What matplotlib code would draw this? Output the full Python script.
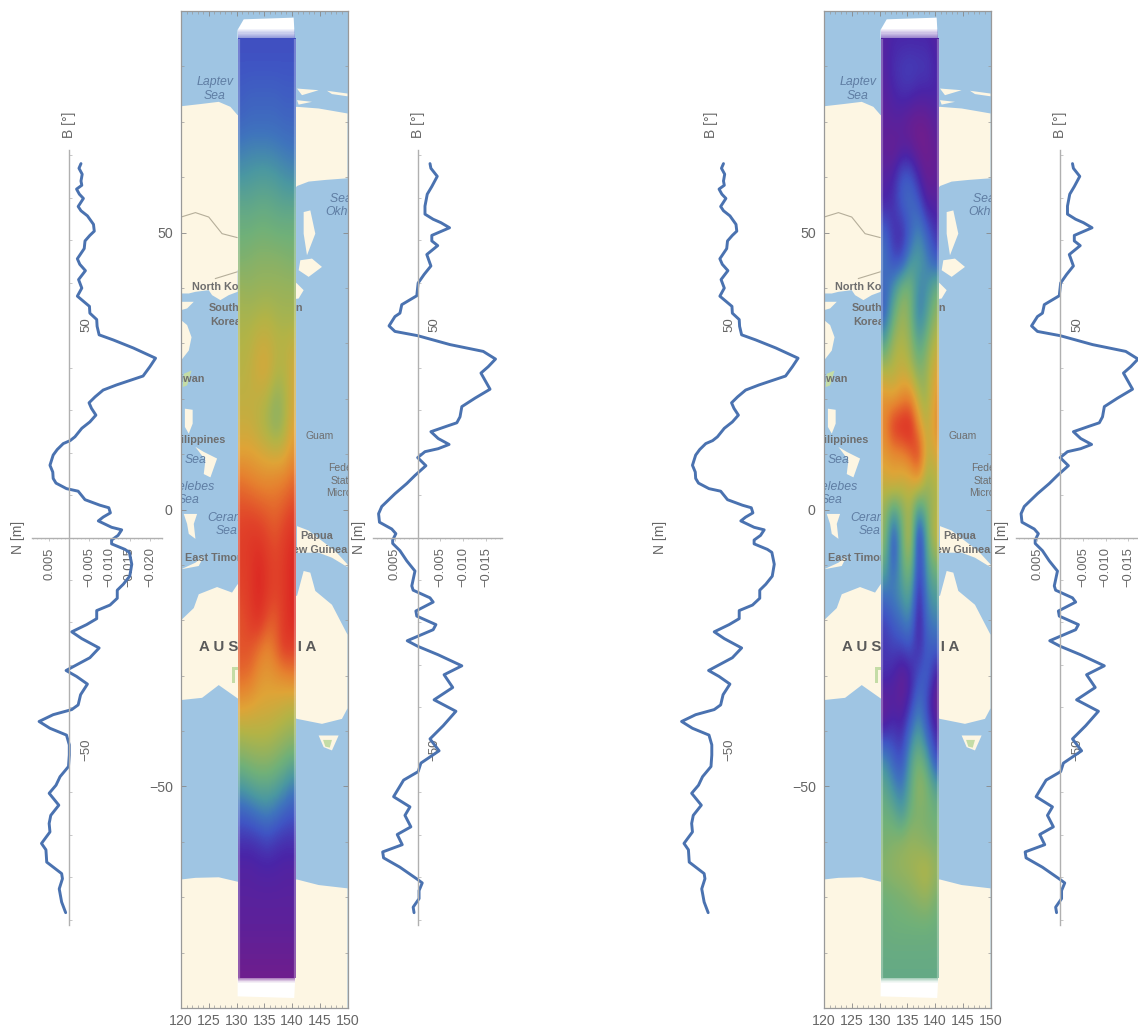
import numpy as np
import matplotlib
matplotlib.use("Agg")
import matplotlib.pyplot as plt
from matplotlib.colors import LinearSegmentedColormap
from matplotlib.patches import Polygon, Rectangle
from matplotlib.ticker import MultipleLocator

plt.rcParams['font.family'] = ['Liberation Sans', 'DejaVu Sans']

# ---------- line data (N in mm, B in degrees) ----------
B_left = [88.0,86.9,85.5,83.9,82.9,82.0,80.8,79.8,77.9,76.9,75.7,73.7,72.1,71.1,69.8,68.0,65.6,64.3,62.8,60.7,58.7,56.8,55.6,54.4,52.8,51.3,49.7,47.7,46.5,44.6,42.2,40.2,38.0,35.9,34.7,33.1,31.7,30.4,28.8,27.2,25.7,23.7,22.8,22.1,20.7,19.4,17.0,15.4,13.9,12.8,11.5,10.9,8.9,7.6,7.0,5.8,4.8,3.9,2.4,1.8,0.5,-0.6,-1.5,-2.8,-3.5,-6.3,-9.1,-11.0,-12.4,-14.3,-15.9,-17.2,-19.1,-20.5,-22.2,-23.8,-26.0,-28.3,-31.3,-32.7,-34.5,-37.0,-39.4,-40.5,-41.7,-43.3,-44.9,-46.5,-48.8,-51.2,-53.9,-56.3,-58.3,-60.2,-63.0,-65.4,-67.3,-69.3,-72.0,-73.5,-76.4,-79.1,-80.3,-82.7,-85.8,-88.3]
N_left = [-2.9,-2.4,-3.2,-2.9,-3.1,-1.8,-2.5,-3.5,-2.2,-2.9,-4.5,-6.0,-6.2,-5.1,-3.9,-3.7,-2.0,-2.6,-4.0,-2.3,-3.1,-2.0,-3.5,-5.0,-5.1,-6.8,-6.9,-7.4,-10.9,-15.9,-21.4,-20.0,-18.3,-11.7,-8.4,-6.4,-4.9,-5.5,-6.6,-5.1,-3.1,-1.4,-0.2,1.5,3.0,4.0,4.8,4.1,4.0,3.3,0.7,-2.2,-3.9,-7.6,-9.8,-10.2,-8.4,-7.2,-10.5,-13.0,-12.1,-10.5,-10.5,-13.8,-14.9,-15.5,-15.0,-13.4,-11.9,-11.9,-10.1,-6.8,-6.8,-4.3,-0.6,-3.1,-7.4,-5.1,0.8,-1.8,-4.5,-2.8,-2.2,-0.6,4.0,7.5,4.8,0.7,0.0,0.0,0.2,2.3,3.3,5.0,2.6,4.6,5.0,4.8,6.9,5.8,5.6,1.9,1.7,2.5,1.9,0.9]

B_right = [88.0,86.9,85.0,82.6,80.8,78.0,76.1,74.9,74.1,72.9,71.1,69.8,68.7,66.6,63.9,61.9,59.9,56.9,54.8,52.8,52.0,49.8,48.5,47.5,45.4,43.8,42.0,40.2,38.7,34.9,32.8,30.8,28.4,27.0,26.2,24.9,23.3,21.9,20.9,20.2,18.8,16.9,14.6,12.7,10.3,7.3,5.6,3.6,2.0,0.9,-0.6,-1.4,-3.1,-5.5,-7.9,-11.4,-12.4,-14.2,-15.2,-17.3,-18.5,-20.5,-21.7,-24.3,-25.6,-27.6,-30.2,-32.3,-35.3,-38.2,-40.9,-44.3,-47.4,-50.2,-53.1,-55.1,-57.1,-61.0,-63.4,-65.4,-68.1,-69.9,-72.3,-74.0,-75.4,-77.6,-80.5,-81.3,-83.1,-85.0,-87.0,-88.3]
N_right = [-2.7,-2.9,-4.3,-3.1,-2.1,-1.6,-1.6,-3.4,-5.1,-7.0,-3.1,-3.1,-4.4,-2.0,-2.9,-1.4,-0.1,0.2,3.5,3.9,5.0,6.3,5.0,0.0,-7.1,-14.4,-17.1,-15.5,-13.9,-15.9,-12.6,-9.7,-9.3,-8.6,-6.4,-2.9,-4.5,-6.9,-4.5,-1.6,0.0,-1.8,0.6,2.4,5.0,7.9,8.6,8.4,5.7,4.8,5.5,5.5,3.9,2.4,0.6,1.3,1.0,-2.7,-3.4,0.4,0.2,-4.0,-3.4,2.3,0.0,-4.5,-9.7,-5.8,-7.7,-3.6,-8.4,-5.6,-2.7,-4.7,-0.7,-0.1,3.1,5.3,1.7,2.8,1.5,4.5,3.4,7.7,7.5,3.9,0.0,-1.0,-0.3,-0.3,1.0,0.8]

N_ticks_left = [5, -5, -10, -15, -20]
N_ticks_right = [5, -5, -10, -15]
B_ticks = [50, -50]

# ---------- strip fields ----------
strip_lat = list(range(85, -90, -5))
strip_lon = [131, 132.5, 134, 135.5, 137, 138.5, 140]

field_left = [
 [.17,.17,.17,.17,.17,.17,.17],[.18,.18,.18,.18,.18,.18,.18],[.20,.21,.21,.21,.21,.20,.20],
 [.22,.23,.23,.23,.23,.22,.22],[.27,.28,.28,.28,.27,.26,.25],[.32,.33,.34,.34,.33,.31,.30],
 [.38,.38,.39,.39,.38,.37,.37],[.42,.42,.43,.43,.42,.42,.42],[.45,.46,.47,.47,.47,.46,.45],
 [.50,.49,.50,.50,.50,.50,.50],[.53,.53,.54,.55,.53,.52,.52],[.55,.56,.60,.60,.57,.56,.58],
 [.56,.58,.62,.63,.56,.55,.62],[.58,.58,.58,.55,.48,.52,.62],[.60,.60,.56,.52,.47,.52,.65],
 [.66,.66,.64,.62,.60,.62,.70],[.78,.75,.73,.72,.74,.75,.80],[.86,.86,.84,.82,.80,.84,.88],
 [.90,.92,.92,.88,.85,.90,.95],[.90,.92,.98,.92,.88,.92,.98],[.88,.92,.98,.92,.88,.92,.98],
 [.85,.90,.95,.85,.82,.92,.97],[.85,.85,.78,.72,.80,.92,.90],[.80,.78,.70,.68,.70,.72,.75],
 [.68,.66,.64,.63,.62,.60,.58],[.55,.56,.56,.56,.54,.52,.50],[.45,.47,.48,.48,.46,.43,.40],
 [.33,.36,.38,.38,.36,.32,.27],[.20,.22,.25,.27,.24,.20,.18],[.12,.12,.13,.15,.13,.12,.12],
 [.08,.08,.09,.09,.09,.08,.08],[.07,.07,.07,.07,.07,.07,.07],[.06,.06,.06,.06,.06,.06,.06],
 [.04,.04,.04,.04,.04,.04,.04],[.02,.02,.02,.02,.02,.02,.02]]

field_right = [
 [.08,.10,.10,.10,.10,.10,.08],[.08,.12,.14,.15,.14,.14,.10],[.07,.10,.12,.12,.10,.10,.10],
 [.06,.07,.06,.03,.02,.03,.07],[.05,.03,.06,.06,.02,.02,.05],[.08,.10,.20,.20,.10,.03,.05],
 [.10,.12,.20,.24,.20,.08,.08],[.22,.12,.10,.20,.30,.20,.12],[.25,.16,.15,.32,.35,.28,.18],
 [.22,.30,.45,.45,.28,.30,.42],[.20,.40,.52,.45,.25,.35,.50],[.35,.52,.55,.50,.35,.45,.58],
 [.55,.55,.60,.55,.45,.50,.65],[.70,.65,.72,.75,.55,.50,.70],[.72,.95,.98,1.0,.70,.55,.72],
 [.68,.70,.72,.80,.95,.55,.65],[.60,.65,.60,.60,.65,.50,.55],[.50,.35,.45,.55,.30,.45,.55],
 [.50,.12,.40,.62,.05,.40,.60],[.40,.18,.38,.50,.10,.35,.45],[.25,.28,.32,.40,.06,.30,.35],
 [.15,.20,.25,.30,.05,.25,.28],[.13,.15,.15,.18,.10,.20,.20],[.12,.10,.04,.08,.18,.22,.08],
 [.04,.07,.05,.12,.26,.15,.02],[.10,.14,.10,.24,.35,.20,.10],[.30,.20,.16,.34,.45,.35,.15],
 [.38,.30,.24,.38,.50,.45,.35],[.42,.40,.32,.43,.45,.44,.42],[.44,.46,.48,.50,.48,.46,.44],
 [.47,.49,.50,.51,.54,.56,.50],[.42,.43,.44,.46,.48,.50,.44],[.41,.42,.42,.42,.42,.42,.41],
 [.40,.40,.40,.40,.40,.40,.40],[.39,.39,.39,.39,.39,.39,.39]]

# ---------- base map (lon, lat) ----------
land = [
 [(120,72.8),(123.5,73.2),(126.8,73.6),(128.9,72.7),(130.2,71.2),(140.9,72.7),(144.8,72.4),(150,71.5),(150,59.8),(146,59.5),(143,59.2),(140.9,58.4),(134,49.8),(130.2,43.2),(130.2,39.3),(128.6,38.7),(127.1,37.8),(125.6,38.7),(125,39.6),(122.6,39.3),(121.4,39),(120,39)],
 [(120,37.5),(122.3,37.5),(121.1,36.3),(120,36)],
 [(120,34.2),(121.1,33.3),(121.9,31.1),(121.4,28.7),(120,26.9)],
 [(120.7,18.2),(122.1,18),(122.1,15.5),(121.4,13.7),(120.7,14.9)],
 [(122.6,11.3),(124.1,10.4),(126.5,9.2),(125.3,5.8),(124.1,6.4),(124.4,8.9)],
 [(142.1,53.7),(143.3,54),(144.2,49.8),(142.7,45.9),(142.1,49.8)],
 [(141.5,45),(143.6,45.3),(145.4,43.8),(143,42),(141.2,43.2)],
 [(139.4,42),(140.9,40.8),(142.1,39.6),(141.2,38.1),(139.4,37.8)],
 [(140.9,76),(144.8,75.7),(141.8,74.8)],
 [(146.3,75.6),(150,75.1),(150,74.6),(147.2,75)],
 [(140.9,73.9),(143.6,73.6),(141.2,73.1)],
 [(120,-20),(122.3,-17.8),(123.2,-15.3),(126.5,-14),(129.2,-15),(130.2,-13.5),(140.9,-15.6),(142.1,-11.1),(143.3,-11.4),(144.2,-14.7),(147.2,-17.2),(150,-22.6),(150,-35.9),(149,-37.8),(145.4,-38.7),(140.9,-37.8),(130.2,-34.1),(126.8,-31.7),(123.8,-34),(120,-34.4)],
 [(144.8,-40.8),(148.4,-40.8),(147.2,-43.5),(145.7,-42.9)],
 [(120,-66.8),(122.6,-66.5),(126.8,-66.4),(130.2,-67.2),(140.9,-66.8),(144.8,-67.8),(150,-68.4),(150,-90),(120,-90)],
 [(140.9,-3),(143,-3.8),(145.7,-5.9),(147.8,-7.5),(150,-9.9),(150,-10.4),(147.2,-8.7),(144.8,-7.8),(140.9,-7.8)],
 [(120.5,-0.8),(122.9,-0.8),(122.3,-2.6),(122.6,-5.3),(121.4,-4.4),(121.1,-2.6)],
 [(120,-10.8),(122.6,-9.6),(124.1,-8.4),(123.2,-10.2)],
]
green_land = [
 [(120.5,24.5),(121.9,25.1),(121.1,22.4),(120.3,22.1)],
 [(129.2,-28.4),(130.2,-28.4),(130.2,-29),(129.7,-29),(129.7,-31.4),(129.2,-31.4)],
 [(145.6,-41.6),(147.2,-41.6),(146.8,-43),(146,-42.8)],
]
borders = [
 [(120,52.8),(122.6,53.6),(125,52.8),(127.4,49.8),(130.1,49.1)],
 [(126.2,41.7),(130.1,42.9)],
]
# text, lon, lat, ha, style
map_labels = [
 ("Laptev",126.1,77.1,'center','sea'),("Sea",126.1,74.6,'center','sea'),
 ("Sea of",146.9,56.0,'left','sea'),("Okhotsk",146.0,53.7,'left','sea'),
 ("North Korea",121.9,40.1,'left','land'),("South",125.0,36.4,'left','land'),("Korea",125.3,33.9,'left','land'),
 ("Japan",142.1,36.4,'right','land'),("Taiwan",124.3,23.6,'right','land'),("Philippines",128.0,12.5,'right','land'),
 ("Sea",122.7,8.9,'center','sea'),("Celebes",126.1,4.0,'right','sea'),("Sea",121.4,1.8,'center','sea'),
 ("Guam",145.0,13.3,'center','small'),("Federated",146.5,7.5,'left','small'),("States",147.0,5.2,'left','small'),("Micronesia",146.2,2.95,'left','small'),
 ("Ceram",124.8,-1.5,'left','sea'),("Sea",126.2,-3.9,'left','sea'),
 ("Papua",141.5,-4.7,'left','land'),("New Guinea",150.0,-7.3,'right','land'),("East Timor",120.8,-8.8,'left','land'),
]

W, H = 1138, 1028
RAINBOW = LinearSegmentedColormap.from_list("rainbow_wl", [
 (0.00,"#781c86"),(0.10,"#4a25a8"),(0.18,"#3f55c4"),(0.25,"#3f74bd"),(0.32,"#4a97a2"),
 (0.42,"#6fb07a"),(0.55,"#b2b447"),(0.65,"#dfa437"),(0.75,"#e6802f"),(0.88,"#e1452a"),(1.00,"#db2122")])
LINE = "#4a72b0"; GREY = "#666666"; AXC = "#b0b0b0"
SEA = "#9fc5e3"; LAND = "#fdf6e3"; GREEN = "#c4dca6"

fig = plt.figure(figsize=(W/100, H/100), dpi=100, facecolor="white")

def box(x0, y0, x1, y1):
    return [x0/W, 1-y1/H, (x1-x0)/W, (y1-y0)/H]

def fade(ax, lat_start, lat_end, value):
    """Soft transition from the swath colour to the white cap."""
    edges = np.linspace(lat_start, lat_end, 9)
    col = RAINBOW(value)
    for i in range(8):
        ax.add_patch(Rectangle((130.3, edges[i]), 10.3, edges[i+1]-edges[i], fc=col, ec="none",
                               alpha=0.55*(1-i/8), zorder=3.5))

def draw_map(x0, field):
    ax = fig.add_axes(box(x0, 11, x0+166.5, 1008), facecolor=SEA)
    for p in land:
        ax.add_patch(Polygon(p, fc=LAND, ec="none", zorder=1))
    for p in green_land:
        ax.add_patch(Polygon(p, fc=GREEN, ec="none", zorder=1.1))
    for b in borders:
        xs, ys = zip(*b)
        ax.plot(xs, ys, color="#b5ae9a", lw=0.8, zorder=1.2)
    for t, lo, la, ha, kind in map_labels:
        kw = dict(sea=dict(fontsize=8.8, style='italic', color="#5f7da3"),
                  land=dict(fontsize=7.8, weight='bold', color="#6e6e6e"),
                  small=dict(fontsize=7.5, color="#6e6e6e"))[kind]
        ax.text(lo, la, t, ha=ha, va='center', clip_on=True, zorder=2, **kw)
    ax.text(133.9, -24.9, "A U S T R A L I A", ha='center', va='center', fontsize=10.8,
            weight='bold', color="#5a5a5a", clip_on=True, zorder=2)
    # white caps above and below the swath
    ax.add_patch(Polygon([(130.2,85),(130.2,86.6),(131.3,88.5),(140.3,88.8),(140.5,85)], fc="white", ec="none", zorder=3))
    ax.add_patch(Polygon([(130.2,-84.4),(140.6,-84.4),(140.4,-88.2),(130.2,-87.9)], fc="white", ec="none", zorder=3))
    fade(ax, 85, 86.8, np.mean(field[0]))
    fade(ax, -84.6, -85.4, np.mean(field[-1]))
    lon = np.array(strip_lon); lat = np.array(strip_lat)
    dx = lon[1]-lon[0]; dy = 5
    ext = (lon[0]-dx/2, lon[-1]+dx/2, lat[-1]-dy/2, lat[0]+dy/2)
    im = ax.imshow(np.array(field), extent=ext, origin='upper', cmap=RAINBOW, vmin=0, vmax=1,
                   interpolation='bicubic', aspect='auto', zorder=4)
    im.set_clip_path(Rectangle((130.3, -84.6), 10.3, 169.7, transform=ax.transData))
    # pale, soft edges of the swath
    for lo, w in ((130.4, 1.6), (140.5, 1.6)):
        ax.plot([lo, lo], [-84.6, 85], color="white", lw=w, alpha=0.28, zorder=5, solid_capstyle='butt')
    ax.set_xlim(120, 150); ax.set_ylim(-90, 90)
    ax.xaxis.set_major_locator(MultipleLocator(5)); ax.xaxis.set_minor_locator(MultipleLocator(1))
    ax.set_yticks([-50, 0, 50]); ax.yaxis.set_minor_locator(MultipleLocator(10))
    ax.tick_params(which='major', direction='in', length=3.5, width=0.6, color="#888888",
                   top=True, right=True, labelsize=10.2, labelcolor=GREY, pad=4)
    ax.tick_params(axis='y', which='major', pad=6)
    ax.tick_params(which='minor', direction='in', length=2, width=0.5, color="#999999", top=True, right=True)
    ax.set_yticklabels(["\u221250", "0", "50"])
    for s in ax.spines.values():
        s.set_color("#999999"); s.set_linewidth(0.9)

def draw_profile(x_left, x_zero, x_right, px_per_mm, N, B, ticks, axes_on, B_label_x, N_label_x):
    ax = fig.add_axes(box(x_left, 150, x_right, 925), facecolor="none")
    ax.plot(np.array(N)*1e-3, B, color=LINE, lw=2.1, solid_joinstyle='round', solid_capstyle='round')
    ax.set_xlim((x_zero-x_left)/px_per_mm*1e-3, -(x_right-x_zero)/px_per_mm*1e-3)
    ax.set_ylim(-91.2, 91.2)
    ax.spines['top'].set_visible(False); ax.spines['left'].set_visible(False)
    ax.spines['right'].set_position(('data', 0)); ax.spines['bottom'].set_position(('data', 0))
    for s in ('right', 'bottom'):
        ax.spines[s].set_color(AXC); ax.spines[s].set_linewidth(1.0); ax.spines[s].set_visible(axes_on)
    ax.yaxis.tick_right()
    ax.set_yticks(B_ticks)
    ax.set_yticklabels([str(b).replace('-', '\u2212') for b in B_ticks], rotation=90, va='center')
    if axes_on:
        ax.set_xticks(np.array(ticks)*1e-3)
        ax.set_xticklabels([f"{t*1e-3:.3f}".replace('-', '\u2212') for t in ticks], rotation=90, va='top')
        ax.yaxis.set_minor_locator(MultipleLocator(10))
        ax.xaxis.set_minor_locator(MultipleLocator(0.001))
        ax.tick_params(axis='y', which='minor', length=2, width=0.5, color=AXC)
        ax.tick_params(axis='x', which='minor', length=1, width=0.4, color=AXC)
    else:
        ax.set_xticks([])
    ax.tick_params(axis='x', which='major', length=2, width=0.5, color=AXC, labelsize=9.3, labelcolor=GREY, pad=5)
    ax.tick_params(axis='y', which='major', length=0, labelsize=9.5, labelcolor=GREY, pad=8)
    fig.text(B_label_x/W, 1-125/H, "B [\u00b0]", rotation=90, ha='center', va='center', fontsize=10, color=GREY)
    fig.text(N_label_x/W, 1-537/H, "N [m]", rotation=90, ha='center', va='center', fontsize=10, color=GREY)
    return ax

draw_map(181, field_left)
draw_map(824, field_right)
draw_profile(32, 69.3, 162, 4.03, N_left, B_left, N_ticks_left, True, 69, 18)
draw_profile(373.3, 417.7, 502, 4.55, N_right, B_right, N_ticks_right, True, 418, 359)
draw_profile(674.5, 711.8, 804.5, 4.03, N_left, B_left, N_ticks_left, False, 711, 660)
draw_profile(1015.8, 1060.2, 1138, 4.55, N_right, B_right, N_ticks_right, True, 1060, 1002)

fig.savefig("out.png", dpi=100, facecolor="white")
